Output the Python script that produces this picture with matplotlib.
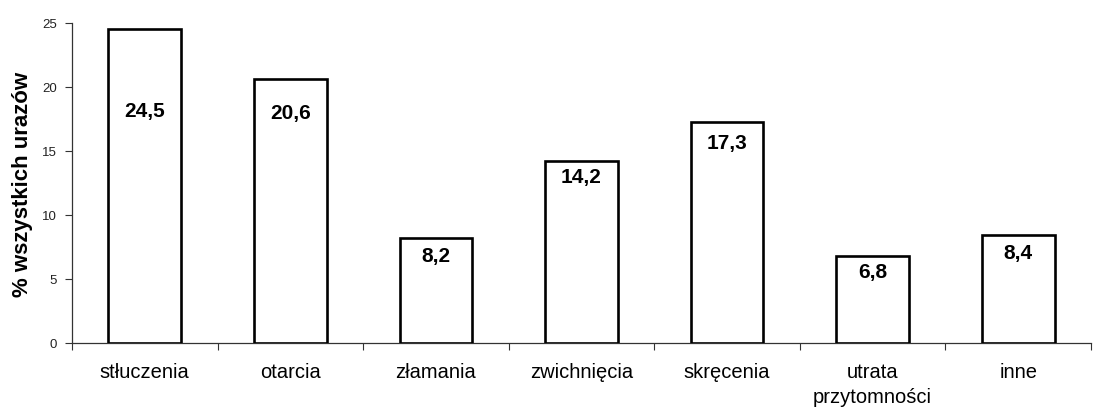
import numpy as np
import matplotlib
matplotlib.use("Agg")
import matplotlib.pyplot as plt

plt.rcParams['font.family'] = ['Liberation Sans', 'DejaVu Sans']

categories = ['stłuczenia', 'otarcia', 'złamania', 'zwichnięcia', 'skręcenia',
              'utrata\nprzytomności', 'inne']
values = [24.5, 20.6, 8.2, 14.2, 17.3, 6.8, 8.4]
value_labels = ['24,5', '20,6', '8,2', '14,2', '17,3', '6,8', '8,4']
# where the value labels sit inside the bars (data units)
label_y = [18.2, 18.0, 6.8, 13.0, 15.7, 5.6, 7.1]

fig = plt.figure(figsize=(10.94, 4.10), dpi=100)
ax = fig.add_axes([0.0658, 0.161, 0.9315, 0.7805])

x = np.arange(len(categories))
ax.bar(x, values, width=0.5, color='white', edgecolor='black', linewidth=1.9, zorder=3)

for xi, yl, txt in zip(x, label_y, value_labels):
    ax.text(xi, yl, txt, ha='center', va='center', fontsize=15, fontweight='bold', zorder=4)

ax.set_xlim(-0.5, len(categories) - 0.5)
ax.set_ylim(0, 25)
ax.set_yticks([0, 5, 10, 15, 20, 25])
ax.set_yticklabels(['0', '5', '10', '15', '20', '25'], fontsize=9.5, color='#222222')
ax.set_xticks(x)
ax.set_xticklabels(categories, fontsize=14.5, linespacing=1.35)
ax.set_xticks(np.arange(len(categories) + 1) - 0.5, minor=True)
ax.tick_params(axis='x', which='major', length=0, pad=14)
ax.tick_params(axis='x', which='minor', length=5, width=0.8, color='#333333')
ax.tick_params(axis='y', length=5, width=0.8, color='#333333', pad=6)

for s in ['top', 'right']:
    ax.spines[s].set_visible(False)
for s in ['left', 'bottom']:
    ax.spines[s].set_linewidth(0.9)
    ax.spines[s].set_color('#333333')

ax.set_ylabel('% wszystkich urazów', fontsize=16, fontweight='bold', labelpad=6)

fig.savefig('out.png', dpi=100)
